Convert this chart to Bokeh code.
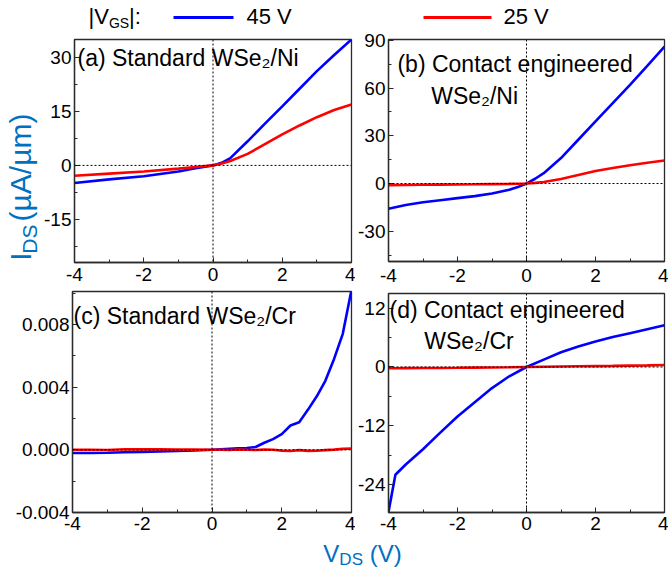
import math
from bokeh.plotting import figure
from bokeh.models import (Range1d, FixedTicker, NumeralTickFormatter, Span, Label)
from bokeh.layouts import column, row
from bokeh.embed import file_html
from bokeh.resources import INLINE

# ---------------- data ----------------
x_ticks = [-4, -2, 0, 2, 4]
x_minor = [-3, -1, 1, 3]

# (a) Standard WSe2/Ni
xa = [-4, -3, -2, -1, -0.5, 0, 0.25, 0.5, 1, 1.5, 2, 2.5, 3, 3.5, 4]
ia_45 = [-4.9, -3.9, -3.0, -1.7, -0.8, 0, 0.7, 2.0, 6.7, 11.6, 16.4, 21.3, 26.2, 30.7, 35.0]
ia_25 = [-2.9, -2.3, -1.7, -0.9, -0.45, 0, 0.5, 1.2, 3.2, 5.9, 8.6, 11.1, 13.4, 15.4, 16.9]
ya_ticks = [-15, 0, 15, 30]
ya_minor = [-22.5, -7.5, 7.5, 22.5]

# (b) Contact engineered WSe2/Ni
xb = [-4, -3.5, -3, -2.5, -2, -1.5, -1, -0.5, -0.25, 0, 0.25, 0.5, 1, 1.5, 2, 2.5, 3, 3.5, 4]
ib_45 = [-15.8, -13.5, -11.8, -10.5, -9.2, -7.9, -6.3, -3.9, -2.2, 0, 3.0, 6.5, 16.0, 27.5, 39.0, 50.5, 62.0, 74.0, 86.0]
ib_25 = [-1.0, -0.9, -0.8, -0.7, -0.6, -0.5, -0.35, -0.2, -0.1, 0, 0.4, 1.0, 2.8, 5.3, 7.9, 9.8, 11.5, 13.0, 14.5]
yb_ticks = [-30, 0, 30, 60, 90]
yb_minor = [-45, -15, 15, 45, 75]

# (c) Standard WSe2/Cr
xc = [-4, -3.5, -3, -2.5, -2, -1.5, -1, -0.5, 0, 0.25, 0.5, 0.75, 1, 1.25, 1.5, 1.75,
      2, 2.25, 2.5, 2.75, 3, 3.25, 3.5, 3.75, 4]
ic_45 = [-0.00020, -0.00020, -0.00019, -0.00016, -0.00013, -0.00010, -0.00007, -0.00004, 0.0,
         0.00003, 0.00006, 0.00009, 0.00012, 0.00018, 0.00045, 0.00068, 0.00100, 0.00155,
         0.00176, 0.00255, 0.00340, 0.00440, 0.00580, 0.00740, 0.01020]
ic_25 = [0.00000, 0.00000, -0.00001, 0.00004, 0.00003, 0.00003, 0.00002, 0.00001, 0.0,
         0.00000, -0.00001, 0.00002, 0.00000, -0.00001, 0.00001, 0.00000, -0.00005, -0.00008,
         -0.00002, -0.00007, -0.00006, -0.00002, 0.00001, 0.00006, 0.00008]
yc_ticks = [-0.004, 0.0, 0.004, 0.008]
yc_minor = [-0.002, 0.002, 0.006, 0.010]

# (d) Contact engineered WSe2/Cr
xd = [-4, -3.8, -3.5, -3, -2.5, -2, -1.5, -1, -0.5, 0, 0.5, 1, 1.5, 2, 2.5, 3, 3.5, 4]
id_45 = [-29.6, -22.0, -19.9, -16.8, -13.4, -10.1, -7.2, -4.3, -1.9, 0, 1.5, 3.0, 4.2, 5.2, 6.1, 6.9, 7.7, 8.5]
id_25 = [-0.25, -0.25, -0.24, -0.22, -0.2, -0.17, -0.13, -0.09, -0.05, 0, 0.05, 0.1, 0.14, 0.18, 0.22, 0.27, 0.32, 0.4]
yd_ticks = [-24, -12, 0, 12]
yd_minor = [-18, -6, 6]

series_labels = ["45 V", "25 V"]

# ---------------- style ----------------
FONT = "Liberation Sans"
BLUE = "#0000FF"
RED = "#FF0000"
LBLUE = "#0070C0"
FRAME = "#2a2a2a"
TICK_FS = "19px"
ANN_FS = "23px"
MID = 0.3465   # distance (in em) from the alphabetic baseline to the em-box middle

W = {' ': .278, '(': .333, ')': .333, 'a': .556, 'b': .556, 'c': .5, 'd': .556, 'e': .556,
     'g': .556, 'i': .222, 'm': .833, 'n': .556, 'r': .333, 't': .278, 'S': .667, 'C': .722,
     'W': .944, 'N': .722, 'D': .722, 'G': .778, 'I': .278, 'V': .667, 'A': .667, '/': .278,
     '|': .26, ':': .278, 'µ': .577}


def tw(s, size):
    return sum(W.get(c, .556) for c in s) * size


def to_data(frame, xr, yr, gx, gy):
    l, r, t, b = frame
    x = xr[0] + (gx - l) / (r - l) * (xr[1] - xr[0])
    y = yr[1] - (gy - t) / (b - t) * (yr[1] - yr[0])
    return x, y


def mk(width, height, xr, yr, mb, yticks, yminor, yfmt, xstand=5):
    p = figure(width=width, height=height, x_range=Range1d(*xr), y_range=Range1d(*yr),
               output_backend="svg", toolbar_location=None, title_location=None,
               min_border_left=mb[0], min_border_right=mb[1],
               min_border_top=mb[2], min_border_bottom=mb[3])
    p.grid.visible = False
    p.outline_line_color = FRAME
    p.outline_line_width = 1.3
    p.background_fill_color = "white"
    p.border_fill_color = "white"
    xa_, ya_ = p.xaxis[0], p.yaxis[0]
    xa_.ticker = FixedTicker(ticks=x_ticks, minor_ticks=x_minor)
    ya_.ticker = FixedTicker(ticks=yticks, minor_ticks=yminor)
    xa_.formatter = NumeralTickFormatter(format="0")
    ya_.formatter = yfmt
    for ax in (xa_, ya_):
        ax.axis_line_color = FRAME
        ax.axis_line_width = 1.3
        ax.major_tick_line_color = FRAME
        ax.minor_tick_line_color = FRAME
        ax.major_tick_in = 5
        ax.major_tick_out = 0
        ax.minor_tick_in = 3
        ax.minor_tick_out = 0
        ax.major_label_text_font = FONT
        ax.major_label_text_font_size = TICK_FS
        ax.major_label_text_color = "black"
    ya_.major_label_standoff = 3
    xa_.major_label_standoff = xstand
    p.add_layout(Span(location=0, dimension="height", line_color="black",
                      line_dash="2 2", line_width=1))
    p.add_layout(Span(location=0, dimension="width", line_color="black",
                      line_dash="2 2", line_width=1))
    return p


def label(p, frame, xr, yr, gx, gy, text, size, color="black", angle=0.0):
    x, y = to_data(frame, xr, yr, gx, gy)
    p.add_layout(Label(x=x, y=y, text=text, text_font=FONT, text_font_size=size,
                       text_color=color, text_align="left", text_baseline="middle",
                       angle=angle))


def strip(width, height):
    s = figure(width=width, height=height, x_range=Range1d(0, width), y_range=Range1d(0, height),
               output_backend="svg", toolbar_location=None, title_location=None,
               min_border_left=0, min_border_right=0, min_border_top=0, min_border_bottom=0,
               x_axis_type=None, y_axis_type=None)
    s.outline_line_color = None
    s.grid.visible = False
    s.background_fill_color = "white"
    s.border_fill_color = "white"
    return s


# ---------------- panels ----------------
XR = (-4, 4)
YA = (-27, 35)
YB = (-49, 90.5)
YC = (-0.004, 0.0101)
YD = (-29.7, 15)
# global frame boxes (left, right, top, bottom)
FA = (72, 351, 39, 262)
FB = (386, 664, 39, 261)
FC = (72, 351, 291, 512)
FD = (386, 664, 293, 512)

YSTRIP = 41                 # width of the y-title strip at the left of panel (a)
INTF = NumeralTickFormatter(format="0")
pa = mk(355 - YSTRIP, 260, XR, YA, (72 - YSTRIP, 4, 9, 28), ya_ticks, ya_minor, INTF, xstand=5)
pb = mk(313, 262, XR, YB, (31, 4, 9, 31), yb_ticks, yb_minor, INTF, xstand=7)
pc = mk(355, 249, XR, YC, (72, 4, 1, 27), yc_ticks, yc_minor,
        NumeralTickFormatter(format="0.000"), xstand=4)
pd = mk(313, 247, XR, YD, (31, 4, 1, 27), yd_ticks, yd_minor, INTF, xstand=4)

for p, x, y45, y25 in ((pa, xa, ia_45, ia_25), (pb, xb, ib_45, ib_25),
                       (pc, xc, ic_45, ic_25), (pd, xd, id_45, id_25)):
    p.line(x, y45, line_color=BLUE, line_width=2.6)
    p.line(x, y25, line_color=RED, line_width=2.6)

# panel annotations
label(pa, FA, XR, YA, 75, 57, "(a) Standard WSe\u2082/Ni", ANN_FS)
label(pb, FB, XR, YB, 395, 63, "(b) Contact engineered", ANN_FS)
label(pb, FB, XR, YB, 429, 95, "WSe\u2082/Ni", ANN_FS)
label(pc, FC, XR, YC, 73, 315, "(c) Standard WSe\u2082/Cr", ANN_FS)
label(pd, FD, XR, YD, 387, 309, "(d) Contact engineered", ANN_FS)
label(pd, FD, XR, YD, 422, 340, "WSe\u2082/Cr", ANN_FS)

# ---------------- y axis title strip (global x 0..41, y 30..290) ----------------
ylab = strip(YSTRIP, 260)
FY = (0, YSTRIP, 30, 290)
RX, RY = (0, YSTRIP), (0, 260)
YF, YS = 30, 21
g0 = 288                    # global y where the title starts (it reads upward)
label(ylab, FY, RX, RY, 30 - MID * YF, g0, "I", f"{YF}px", LBLUE, math.pi / 2)
g1 = g0 - tw("I", YF)
label(ylab, FY, RX, RY, 36 - MID * YS, g1, "DS", f"{YS}px", LBLUE, math.pi / 2)
g2 = g1 - tw("DS", YS) - tw(" ", YF)
label(ylab, FY, RX, RY, 30 - MID * YF, g2, "(µA/µm)", f"{YF}px", LBLUE, math.pi / 2)

# ---------------- legend strip (global y 0..30) ----------------
leg = strip(668, 30)
FL = (0, 668, 0, 30)
LR, LRY = (0, 668), (0, 30)
LF, LS = 22, 14
LB = 23.5                    # baseline of the legend texts
lx = 88
label(leg, FL, LR, LRY, lx, LB - MID * LF, "|V", f"{LF}px")
lx2 = lx + tw("|V", LF)
label(leg, FL, LR, LRY, lx2, LB + 3.4 - MID * LS, "GS", f"{LS}px")
lx3 = lx2 + tw("GS", LS)
label(leg, FL, LR, LRY, lx3, LB - MID * LF, "|:", f"{LF}px")
leg.segment(x0=[173, 423], y0=[13, 13], x1=[233, 491], y1=[13, 13],
            line_color=[BLUE, RED], line_width=3)
label(leg, FL, LR, LRY, 246, LB - MID * LF, series_labels[0], f"{LF}px")
label(leg, FL, LR, LRY, 503, LB - MID * LF, series_labels[1], f"{LF}px")

# ---------------- x axis title strip (global y 539..569) ----------------
xl = strip(668, 30)
FX = (0, 668, 539, 569)
XRR, XRY = (0, 668), (0, 30)
XF, XS = 24, 17
XB = 561
total = tw("V", XF) + tw("DS", XS) + tw(" (V)", XF)
sx = 362 - total / 2
label(xl, FX, XRR, XRY, sx, XB - MID * XF, "V", f"{XF}px", LBLUE)
sx2 = sx + tw("V", XF)
label(xl, FX, XRR, XRY, sx2, XB + 4 - MID * XS, "DS", f"{XS}px", LBLUE)
sx3 = sx2 + tw("DS", XS) + tw(" ", XF)
label(xl, FX, XRR, XRY, sx3, XB - MID * XF, "(V)", f"{XF}px", LBLUE)

layout = column(leg,
                row(column(row(ylab, pa), pc), column(pb, pd)),
                xl)
open("out.html", "w").write(file_html(layout, INLINE))
